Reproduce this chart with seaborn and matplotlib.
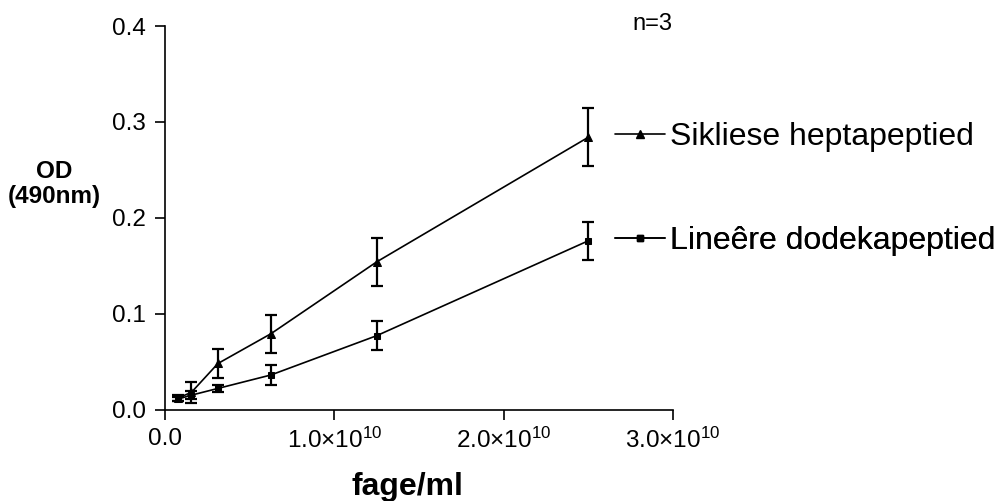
import matplotlib
matplotlib.use("Agg")
import matplotlib.pyplot as plt
import matplotlib.transforms as mtransforms
from matplotlib.lines import Line2D
import seaborn as sns
import pandas as pd

# phage concentration (phage/ml) — two-fold dilution series
phage_per_ml = [7.8125e8, 1.5625e9, 3.125e9, 6.25e9, 1.25e10, 2.5e10]

# mean OD(490nm) and standard deviations, n=3
od_cyclic = [0.012, 0.018, 0.048, 0.079, 0.154, 0.284]
sd_cyclic = [0.003, 0.011, 0.015, 0.020, 0.025, 0.030]
od_linear = [0.011, 0.015, 0.022, 0.036, 0.077, 0.176]
sd_linear = [0.002, 0.004, 0.004, 0.010, 0.015, 0.020]

series_names = ["Sikliese heptapeptied", "Lineêre dodekapeptied"]
series_markers = ["^", "s"]
series_marker_sizes = [5.5, 4.5]

x_ticks = [0, 1e10, 2e10, 3e10]
x_tick_labels = ["0.0", "1.0×10$^{10}$", "2.0×10$^{10}$", "3.0×10$^{10}$"]
y_ticks = [0.0, 0.1, 0.2, 0.3, 0.4]

sns.set_theme(style="ticks")
plt.rcParams["font.family"] = ["Liberation Sans", "DejaVu Sans"]
plt.rcParams["text.color"] = "black"
plt.rcParams["axes.labelcolor"] = "black"
plt.rcParams["mathtext.fontset"] = "custom"
plt.rcParams["mathtext.rm"] = "Liberation Sans"
plt.rcParams["mathtext.it"] = "Liberation Sans:italic"
plt.rcParams["mathtext.bf"] = "Liberation Sans:bold"

df = pd.DataFrame({
    "phage": phage_per_ml * 2,
    "od": od_cyclic + od_linear,
    "sd": sd_cyclic + sd_linear,
    "peptide": [series_names[0]] * len(od_cyclic) + [series_names[1]] * len(od_linear),
})

fig = plt.figure(figsize=(9.99, 5.01), dpi=100)
ax = fig.add_axes([0.1652, 0.1826, 0.5085, 0.7655])

for name, marker, msize in zip(series_names, series_markers, series_marker_sizes):
    sub = df[df["peptide"] == name]
    sns.lineplot(data=sub, x="phage", y="od", ax=ax, color="black",
                 marker=marker, markersize=msize, markeredgecolor="black",
                 linewidth=1.2, legend=False, errorbar=None)
    ax.errorbar(sub["phage"], sub["od"], yerr=sub["sd"], fmt="none",
                ecolor="black", elinewidth=1.6, capsize=4, capthick=1.6)

ax.set_xlim(0, 3e10)
ax.set_ylim(0, 0.4)
ax.set_xticks(x_ticks)
ax.set_xticklabels(x_tick_labels)
ax.set_yticks(y_ticks)
ax.set_yticklabels([f"{v:.1f}" for v in y_ticks])
ax.tick_params(axis="both", direction="out", length=7, width=1.2,
               colors="black", labelsize=17.5)
ax.tick_params(axis="y", pad=7)
ax.tick_params(axis="x", pad=6)
for side in ("left", "bottom"):
    ax.spines[side].set_linewidth(1.2)
    ax.spines[side].set_color("black")
sns.despine(ax=ax)

ax.set_xlabel("")
ax.set_ylabel("")
fig.text(0.408, 0.012, "fage/ml", ha="center", va="baseline",
         fontsize=23, fontweight="bold", color="black")
fig.text(0.054, 0.633, "OD\n(490nm)", ha="center", va="center",
         fontsize=17.5, fontweight="bold", linespacing=1.1, color="black")
ax.text(0.959, 1.005, "n=3", transform=ax.transAxes, ha="center",
        va="center", fontsize=17, color="black")

# one legend entry next to the end of each curve
blend = mtransforms.blended_transform_factory(ax.transAxes, ax.transData)
for name, marker, msize, values in zip(series_names, series_markers,
                                       series_marker_sizes, [od_cyclic, od_linear]):
    handle = Line2D([], [], color="black", marker=marker, markersize=msize,
                    linewidth=1.2)
    leg = ax.legend([handle], [name], loc="center left",
                    bbox_to_anchor=(0.886, values[-1]),
                    bbox_transform=blend, frameon=False, fontsize=23,
                    handlelength=1.56, handletextpad=0.16, borderpad=0,
                    borderaxespad=0, labelcolor="black")
    ax.add_artist(leg)

fig.savefig("out.png", dpi=100)
